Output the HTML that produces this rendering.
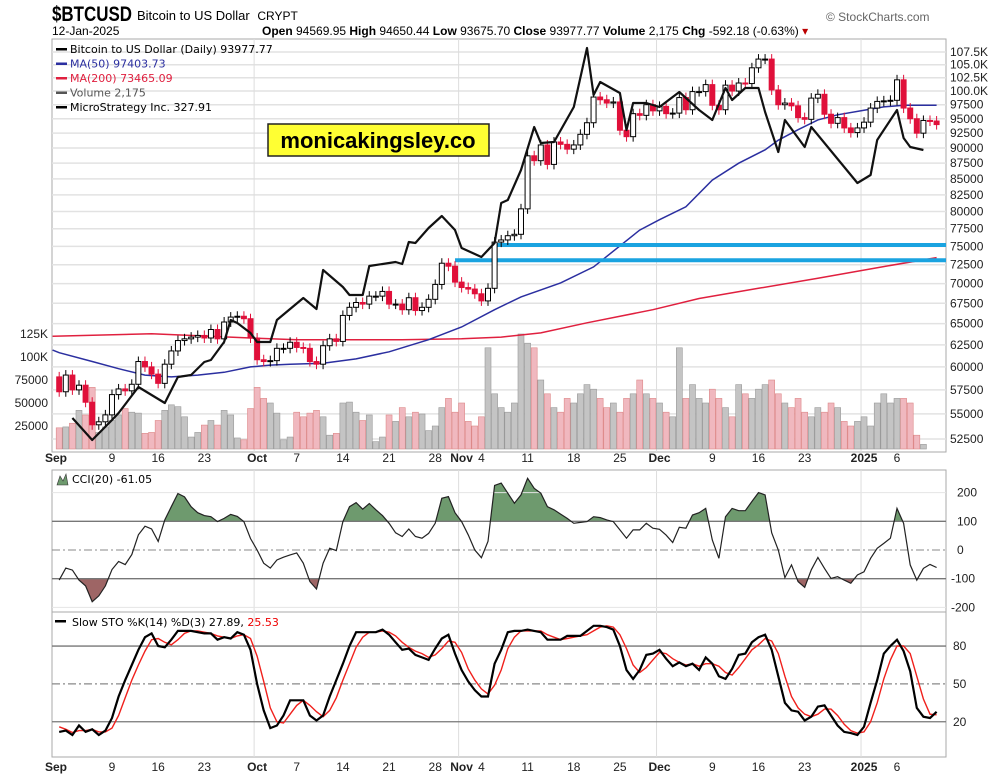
<!DOCTYPE html>
<html><head><meta charset="utf-8"><style>
body{margin:0;background:#fff;}
svg{display:block;font-family:"Liberation Sans",Arial,sans-serif;}
.ax{font-size:12px;fill:#222;}
.lg{font-family:"DejaVu Sans",sans-serif;font-size:11px;}
</style></head><body>
<svg id="c" width="1004" height="777" viewBox="0 0 1004 777">
<text x="52" y="21" font-size="21" font-weight="bold" textLength="80" lengthAdjust="spacingAndGlyphs">$BTCUSD</text>
<text x="137" y="20" font-size="13">Bitcoin to US Dollar <tspan font-size="12" dx="4">CRYPT</tspan></text>
<text x="52" y="35" font-size="12">12-Jan-2025</text>
<text x="262" y="35" font-size="12"><tspan font-weight="bold">Open</tspan> 94569.95 <tspan font-weight="bold">High</tspan> 94650.44 <tspan font-weight="bold">Low</tspan> 93675.70 <tspan font-weight="bold">Close</tspan> 93977.77 <tspan font-weight="bold">Volume</tspan> 2,175 <tspan font-weight="bold">Chg</tspan> -592.18 (-0.63%) <tspan fill="#b00">▾</tspan></text>
<text x="826" y="21" font-size="12" fill="#666">© StockCharts.com</text>
<g id="g"></g>
</svg>
<script>
const closes=[57300,59100,57500,58000,56200,53900,54200,54900,57000,57600,57400,58100,60600,60000,59200,58200,60300,61800,63000,63200,63400,63600,63300,64300,63200,65200,65800,65900,65600,63300,
60800,60600,60700,62100,62100,62800,62200,62100,60600,60300,62400,63200,62900,66000,67000,67600,67400,68400,68400,69000,67400,67400,66700,68200,66600,67000,68000,69900,72700,72300,70200,
69500,69300,68700,67800,69400,75600,75900,76500,76700,80400,88700,87900,90500,87300,91000,90600,89800,90500,92300,94300,98900,98400,97800,98000,93000,91900,95900,95600,97500,96400,
97200,95900,96000,98800,96600,99900,99900,101200,97400,96600,101100,100000,101500,101400,104400,106100,106100,100200,97500,97800,97300,95200,94900,98700,99400,95800,94200,95200,93400,92600,93400,
94400,96900,98100,98200,98300,102100,96900,95000,92500,94700,94600,93978];
const firstOpen=58900;
const volumes=[23,24,28,42,37,67,18,24,31,37,44,40,39,17,18,31,42,48,46,35,13,18,26,31,26,42,37,12,10,44,67,55,50,39,10,13,40,35,39,42,35,15,17,50,51,40,31,37,8,13,37,
30,45,35,40,38,20,25,45,55,40,50,30,25,35,110,60,45,40,50,125,115,110,75,60,45,40,55,50,60,70,65,55,45,50,40,55,60,75,60,55,50,40,35,110,55,70,55,50,65,55,45,35,70,60,55,65,70,75,60,50,45,55,40,35,45,40,50,45,30,25,30,35,25,50,60,50,55,55,50,15,5];
const cci=[-105,-63,-70,-105,-125,-180,-160,-125,-68,-40,-51,-16,53,83,73,30,105,151,197,185,151,130,120,116,99,110,124,117,99,40,0,-46,-63,-35,-25,-17,-10,-46,-110,-136,-46,6,-2,99,151,165,142,162,140,120,93,60,47,73,47,41,58,93,180,186,130,99,53,0,-27,30,225,233,198,163,192,250,215,198,151,140,125,110,93,96,99,116,113,105,99,70,41,70,70,93,76,72,52,26,79,76,122,130,145,35,-29,116,145,137,137,169,200,192,60,0,-96,-52,-110,-130,-69,-26,-64,-99,-93,-105,-116,-87,-76,-29,6,23,41,145,93,-52,-105,-64,-50,-61];
const stoK=[12,13,9.5,17,12,14,9.5,13,23,40,53,65,77,87,90,80,79,85,92,92,92,91,90,90,85,87,86,91,89,77,50,29,15,17,25,37,37,37,25,21,25,40,53,66,80,91,91,91,91,93,89,83,77,78,73,71,69,78,86,89,74,61,52,45,40,40,66,77,91,92,92,93,92,91,85,85,85,88,88,88,92,96,96,95,93,80,61,54,61,73,74,77,70,64,67,64,66,61,71,66,56,54,62,73,74,83,87,89,77,56,35,29,28,21,24,32,33,25,17,12,11,9.5,16,35,53,74,80,85,76,60,31,24,23,27.89];
const stoD=[16,14,11.5,13,13,14,12,12,15,25,39,53,65,76,85,86,83,81,85,90,92,92,91,90,88,87,86,88,89,86,72,52,31,20,19,26,33,37,33,28,24,29,39,53,66,79,87,91,91,92,91,88,83,79,76,74,71,73,78,84,83,75,62,53,46,42,49,61,78,87,92,92,92,92,89,87,85,86,87,88,89,92,95,96,95,89,78,65,59,63,69,75,74,70,67,65,66,64,66,66,64,59,57,63,70,77,81,86,84,74,56,40,31,26,24,26,30,30,25,18,13,11,12,20,35,54,69,80,80,74,56,38,26,25.53];
const mstrDays=[2,5,8,9,12,16,18,20,22,23,25,26,27,29,30,32,33,37,39,40,43,44,46,47,51,52,53,54,56,58,60,61,64,66,67,68,70,72,73,75,78,80,81,82,85,86,87,89,91,94,97,99,101,102,104,106,107,109,110,113,114,121,123,124,127,128,129,131];
const mstrPrice=[60,38,58,65,91,75,101,103,116,118,136,158,155,145,136,136,158,180,169,208,191,183,183,212,216,214,236,235,250,262,248,230,221,235,275,278,308,351,335,336,371,430,383,396,385,348,375,375,371,386,368,358,390,378,390,390,366,326,358,331,351,295,303,338,368,340,331,328];
const ma50Days=[-1,0,5,9,13,17,21,25,29,32,35,40,45,50,56,61,66,70,76,81,88,91,95,99,103,107,109,112,115,118,122,125,128,133];
const ma50=[61900,61600,60600,59800,59100,58900,59100,59400,60000,60200,60300,60400,60900,61700,63100,64600,66700,68300,70100,72200,77300,78800,80700,84800,87500,89700,91300,93100,94800,95700,96500,97100,97400,97404];
const ma200Days=[-1,14,29,36,52,61,67,73,80,90,97,106,115,124,133];
const ma200=[63500,63800,63300,63100,63100,63200,63400,63900,65100,66700,68100,69400,70700,72100,73465];
const priceTicks=[107500,105000,102500,100000,97500,95000,92500,90000,87500,85000,82500,80000,77500,75000,72500,70000,67500,65000,62500,60000,57500,55000,52500];
const priceTickLabels=["107.5K","105.0K","102.5K","100.0K","97500","95000","92500","90000","87500","85000","82500","80000","77500","75000","72500","70000","67500","65000","62500","60000","57500","55000","52500"];
const volTicks=[125,100,75,50,25];
const volTickLabels=["125K","100K","75000","50000","25000"];
const cciTicks=[200,100,0,-100,-200];
const stoTicks=[80,50,20];
const dateDays=[0,8,15,22,30,36,43,50,57,61,64,71,78,85,91,99,106,113,122,127];
const dateLabels=["Sep","9","16","23","Oct","7","14","21","28","Nov","4","11","18","25","Dec","9","16","23","2025","6"];
const monthDays=[30,61,91,122];
const supportLevels=[75200,73100];
const supportStart=[66,60];

const NS="http://www.w3.org/2000/svg";
const G=document.getElementById('g');
function mk(t,a,p){const e=document.createElementNS(NS,t);for(const k in a)e.setAttribute(k,a[k]);(p||G).appendChild(e);return e;}
const L=52,R=946;
const X=i=>59.2+6.597*i;
const PY=p=>52+540*(Math.log(107500)-Math.log(p));
const VY=v=>449-v*0.92;
const CY=v=>550-v*0.287;
const SY=v=>747-v*1.262;
const MY=m=>478-m;

let e;
e=mk('rect',{x:L,y:39,width:R-L,height:413,fill:'#fff',stroke:'#aaa'});


e=mk('rect',{x:L,y:470,width:R-L,height:142,fill:'#fff',stroke:'#aaa'});


e=mk('rect',{x:L,y:612,width:R-L,height:145,fill:'#fff',stroke:'#aaa'});



priceTicks.forEach((p,k)=>{const y=PY(p);
 e=mk('line',{x1:L,x2:R,y1:y,y2:y,stroke:'#e2e2e2','stroke-width':1.5});
 
 
 e=mk('text',{x:950,y:y+4,class:'ax'});e.textContent=priceTickLabels[k];
 
 });
monthDays.forEach(d=>{[[39,452],[470,612],[612,757]].forEach(r=>{
 e=mk('line',{x1:X(d)-3,x2:X(d)-3,y1:r[0],y2:r[1],stroke:'#ddd'});
 
 });});
volTicks.forEach((v,k)=>{e=mk('text',{x:48,y:VY(v)+4,class:'ax','text-anchor':'end'});e.textContent=volTickLabels[k];
 
 });

closes.forEach((c,i)=>{const o=i?closes[i-1]:firstOpen;const y=VY(volumes[i]);
 e=mk('rect',{x:X(i)-3,y:y,width:6,height:449-y,fill:c<o?'#f0b8bf':'#c4c4c4',stroke:c<o?'#d88':'#999','stroke-width':0.6});
 
 });

function pathFrom(days,vals,yf){return days.map((d,k)=>(k?'L':'M')+X(d).toFixed(1)+','+yf(vals[k]).toFixed(1)).join('');}
e=mk('path',{d:pathFrom(ma200Days,ma200,PY),fill:'none',stroke:'#e0203f','stroke-width':1.5});


e=mk('path',{d:pathFrom(ma50Days,ma50,PY),fill:'none',stroke:'#2b2fa0','stroke-width':1.5});



supportLevels.forEach((p,k)=>{e=mk('line',{x1:X(supportStart[k]),x2:R,y1:PY(p),y2:PY(p),stroke:'#1aa3e0','stroke-width':4});
 
 });

closes.forEach((c,i)=>{const o=i?closes[i-1]:firstOpen;const up=c>=o;
 const y1=PY(Math.max(o,c)),y2=PY(Math.min(o,c));const x=X(i);
 e=mk('line',{x1:x,x2:x,y1:y1-5,y2:y2+5,stroke:up?'#000':'#e0103a','stroke-width':1});
 
 
 e=mk('rect',{x:x-2.5,y:y1,width:5,height:Math.max(1,y2-y1),fill:up?'#fff':'#e0103a',stroke:up?'#000':'#e0103a','stroke-width':1});
 
 });

e=mk('path',{d:pathFrom(mstrDays,mstrPrice,MY),fill:'none',stroke:'#111','stroke-width':2.2,'stroke-linejoin':'round'});



e=mk('rect',{x:268,y:124,width:221,height:32,fill:'#ffff33',stroke:'#222','stroke-width':1.5});


e=mk('text',{x:378,y:148,'font-size':22,'font-weight':'bold','text-anchor':'middle'});e.textContent='monicakingsley.co';



const leg=[['Bitcoin to US Dollar (Daily) 93977.77','#000'],['MA(50) 97403.73','#2b2fa0'],['MA(200) 73465.09','#e0203f'],['Volume 2,175','#555'],['MicroStrategy Inc. 327.91','#000']];
leg.forEach((l,k)=>{e=mk('text',{x:70,y:53+k*14.5,class:'lg',fill:l[1]});e.textContent=l[0];
 
 
 e=mk('rect',{x:56,y:48+k*14.5,width:11,height:2.5,fill:l[1]});
 
 });

const cciPts=cci.map((v,i)=>[X(i),CY(v)]);
const cciD='M'+cciPts.map(p=>p[0].toFixed(1)+','+p[1].toFixed(1)).join('L');
const defs=mk('defs',{});
mk('clipPath',{id:'ca'},defs).appendChild(mk('rect',{x:L,y:470,width:R-L,height:CY(100)-470},defs));
mk('clipPath',{id:'cb'},defs).appendChild(mk('rect',{x:L,y:CY(-100),width:R-L,height:612-CY(-100)},defs));
const a1=cciD+'L'+X(cci.length-1)+','+CY(100)+'L'+X(0)+','+CY(100)+'Z';
const a2=cciD+'L'+X(cci.length-1)+','+CY(-100)+'L'+X(0)+','+CY(-100)+'Z';
e=mk('path',{d:a1,fill:'#6e9a6e','clip-path':'url(#ca)'});


e=mk('path',{d:a2,fill:'#9e6565','clip-path':'url(#cb)'});


cciTicks.forEach(v=>{const y=CY(v);
 if(v===100||v===-100){e=mk('line',{x1:L,x2:R,y1:y,y2:y,stroke:'#777','stroke-width':1.3});}
 else if(v===0){e=mk('line',{x1:L,x2:R,y1:y,y2:y,stroke:'#888','stroke-dasharray':'8,3,2,3'});}
 else{e=mk('line',{x1:L,x2:R,y1:y,y2:y,stroke:'#e4e4e4'});}
 
 
 e=mk('text',{x:v<0?951:957,y:y+4,class:'ax'});e.textContent=v;
 
 });
e=mk('path',{d:cciD,fill:'none',stroke:'#222','stroke-width':1.2});


e=mk('text',{x:72,y:483,class:'lg','font-size':12});e.textContent='CCI(20) -61.05';


e=mk('path',{d:'M57,485L60,476L63,481L66,474L68,485Z',fill:'#6e9a6e',stroke:'#333','stroke-width':0.6});



stoTicks.forEach(v=>{const y=SY(v);
 e=mk('line',{x1:L,x2:R,y1:y,y2:y,stroke:v===50?'#888':'#777','stroke-width':1.3,'stroke-dasharray':v===50?'8,3,2,3':'none'});
 
 
 e=mk('text',{x:953,y:y+4,class:'ax'});e.textContent=v;
 
 });
const sD='M'+stoD.map((v,i)=>X(i).toFixed(1)+','+SY(v).toFixed(1)).join('L');
const sK='M'+stoK.map((v,i)=>X(i).toFixed(1)+','+SY(v).toFixed(1)).join('L');
e=mk('path',{d:sD,fill:'none',stroke:'#f0201c','stroke-width':1.4});


e=mk('path',{d:sK,fill:'none',stroke:'#000','stroke-width':2.2});


e=mk('rect',{x:55,y:620,width:11,height:2.5,fill:'#000'});


e=mk('text',{x:72,y:626,class:'lg','font-size':12});e.innerHTML='Slow STO %K(14) %D(3) 27.89, <tspan fill="#e00">25.53</tspan>';



[462,771].forEach(yy=>{dateDays.forEach((d,k)=>{const bold=isNaN(+dateLabels[k])||dateLabels[k]==='2025';
 const lx=k===0?45:X(d);
 e=mk('text',{x:lx,y:yy,class:'ax','font-size':bold?14:12,'font-weight':bold?'bold':'normal','text-anchor':k===0?'start':'middle'});
 e.textContent=dateLabels[k];
 
 });});
</script>
</body></html>
